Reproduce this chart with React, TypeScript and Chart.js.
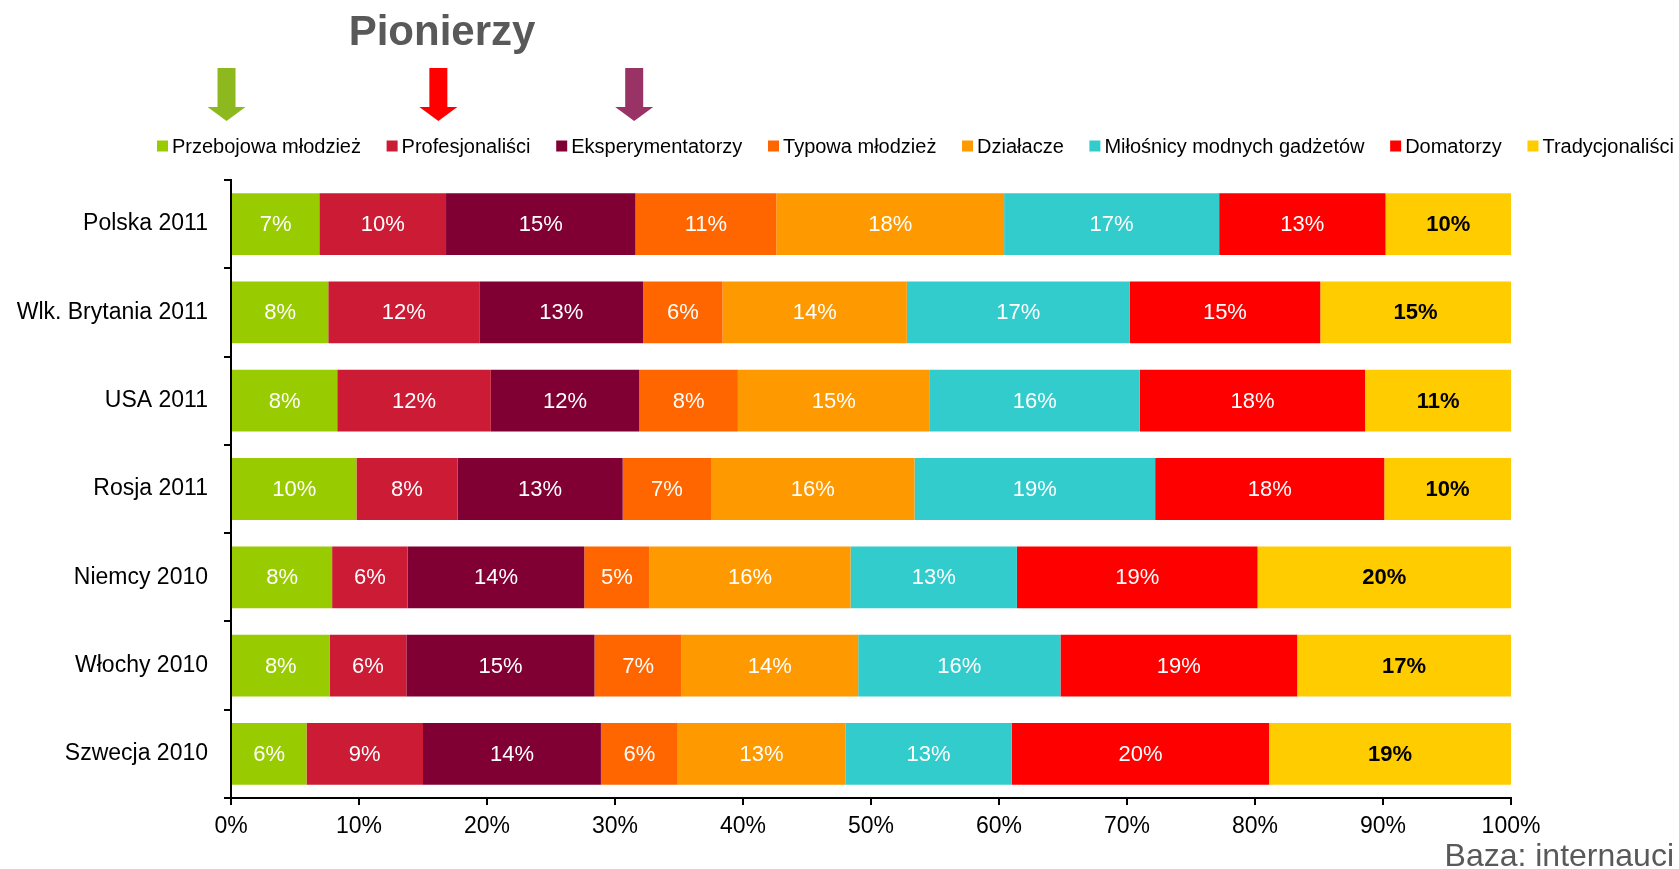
import { useEffect, useRef } from 'react';
import { Chart, registerables } from 'chart.js';

Chart.register(...registerables);

const FONT = '"Liberation Sans", Arial, Helvetica, sans-serif';

const categories = ['Polska 2011', 'Wlk. Brytania 2011', 'USA 2011', 'Rosja 2011', 'Niemcy 2010', 'Włochy 2010', 'Szwecja 2010'];

const seriesNames = [
  'Przebojowa młodzież',
  'Profesjonaliści',
  'Eksperymentatorzy',
  'Typowa młodzież',
  'Działacze',
  'Miłośnicy modnych gadżetów',
  'Domatorzy',
  'Tradycjonaliści',
];

const seriesColors = ['#99cc00', '#cb1b35', '#800033', '#ff6600', '#ff9900', '#33cccc', '#ff0000', '#ffcc00'];

const przebojowaMlodziez = [6.9, 7.6, 8.3, 9.8, 7.9, 7.7, 5.9];
const profesjonalisci = [9.9, 11.8, 12.0, 7.9, 5.9, 6.0, 9.1];
const eksperymentatorzy = [14.8, 12.8, 11.6, 12.9, 13.8, 14.7, 13.9];
const typowaMlodziez = [11.0, 6.2, 7.7, 6.9, 5.1, 6.8, 6.0];
const dzialacze = [17.8, 14.4, 15.0, 15.9, 15.7, 13.8, 13.1];
const milosnicyGadzetow = [16.8, 17.4, 16.4, 18.8, 13.0, 15.8, 13.0];
const domatorzy = [13.0, 14.9, 17.6, 17.9, 18.8, 18.5, 20.1];
const tradycjonalisci = [9.8, 14.9, 11.4, 9.9, 19.8, 16.7, 18.9];

const seriesValues = [
  przebojowaMlodziez,
  profesjonalisci,
  eksperymentatorzy,
  typowaMlodziez,
  dzialacze,
  milosnicyGadzetow,
  domatorzy,
  tradycjonalisci,
];

const xTickValues = [0, 10, 20, 30, 40, 50, 60, 70, 80, 90, 100];

const titleText = 'Pionierzy';
const footnoteText = 'Baza: internauci';
const arrowTargets = [-0.35, 16.2, 31.5];
const arrowColors = ['#8db91e', '#ff0000', '#993366'];

const barLabelsPlugin = {
  id: 'barLabels',
  afterDatasetsDraw(chart: any) {
    const ctx = chart.ctx;
    ctx.save();
    ctx.textAlign = 'center';
    ctx.textBaseline = 'middle';
    chart.data.datasets.forEach((ds: any, di: number) => {
      const meta = chart.getDatasetMeta(di);
      const last = di === chart.data.datasets.length - 1;
      ctx.font = `${last ? 'bold ' : ''}22px ${FONT}`;
      ctx.fillStyle = last ? '#000000' : '#ffffff';
      meta.data.forEach((bar: any, i: number) => {
        const v = ds.data[i];
        const cx = (bar.x + bar.base) / 2;
        ctx.fillText(Math.round(v) + '%', cx, bar.y + 1);
      });
    });
    ctx.restore();
  },
};

const decorPlugin = {
  id: 'decor',
  afterDraw(chart: any) {
    const ctx = chart.ctx;
    const xScale = chart.scales.x;
    ctx.save();

    // title
    ctx.font = `bold 42px ${FONT}`;
    ctx.fillStyle = '#595959';
    ctx.textAlign = 'center';
    ctx.textBaseline = 'alphabetic';
    ctx.fillText(titleText, 442, 45);

    // arrows
    arrowTargets.forEach((v, i) => {
      const cx = xScale.getPixelForValue(v);
      ctx.fillStyle = arrowColors[i];
      ctx.beginPath();
      ctx.moveTo(cx - 9, 68);
      ctx.lineTo(cx + 9, 68);
      ctx.lineTo(cx + 9, 107);
      ctx.lineTo(cx + 19, 107);
      ctx.lineTo(cx, 121);
      ctx.lineTo(cx - 19, 107);
      ctx.lineTo(cx - 9, 107);
      ctx.closePath();
      ctx.fill();
    });

    // legend
    ctx.font = `20px ${FONT}`;
    ctx.textAlign = 'left';
    ctx.textBaseline = 'middle';
    const box = 11;
    const boxGap = 4;
    const startX = 157;
    const endX = 1674;
    const legendY = 146;
    const widths = seriesNames.map((n) => ctx.measureText(n).width);
    const used = widths.reduce((a, b) => a + b, 0) + seriesNames.length * (box + boxGap);
    const gap = (endX - startX - used) / (seriesNames.length - 1);
    let x = startX;
    seriesNames.forEach((n, i) => {
      ctx.fillStyle = seriesColors[i];
      ctx.fillRect(x, legendY - box / 2, box, box);
      ctx.fillStyle = '#000000';
      ctx.fillText(n, x + box + boxGap, legendY + 1);
      x += box + boxGap + widths[i] + gap;
    });

    // footnote
    ctx.font = `32px ${FONT}`;
    ctx.fillStyle = '#595959';
    ctx.textAlign = 'right';
    ctx.textBaseline = 'alphabetic';
    ctx.fillText(footnoteText, 1674, 866);

    ctx.restore();
  },
};

export default function App() {
  const canvasRef = useRef<HTMLCanvasElement | null>(null);

  useEffect(() => {
    if (!canvasRef.current) return;
    const chart = new Chart(canvasRef.current, {
      type: 'bar',
      data: {
        labels: categories,
        datasets: seriesNames.map((name, i) => ({
          label: name,
          data: seriesValues[i],
          backgroundColor: seriesColors[i],
          borderWidth: 0,
          categoryPercentage: 1,
          barPercentage: 0.7,
        })),
      },
      options: {
        indexAxis: 'y',
        animation: false,
        responsive: true,
        maintainAspectRatio: false,
        layout: { padding: { top: 180, right: 168, left: 0, bottom: 0 } },
        plugins: {
          legend: { display: false },
          title: { display: false },
          tooltip: { enabled: false },
        },
        scales: {
          x: {
            stacked: true,
            min: 0,
            max: 100,
            afterBuildTicks: (scale: any) => {
              scale.ticks = xTickValues.map((v) => ({ value: v }));
            },
            ticks: {
              color: '#000000',
              font: { size: 23, family: FONT },
              padding: 8,
              callback: (v: any) => v + '%',
            },
            grid: { drawOnChartArea: false, color: '#000000', tickLength: 7, lineWidth: 2 },
            border: { color: '#000000', width: 2 },
            afterFit: (scale: any) => {
              scale.height = 71;
            },
          },
          y: {
            stacked: true,
            ticks: {
              color: '#000000',
              font: { size: 23, family: FONT },
              padding: 16,
            },
            grid: { drawOnChartArea: false, color: '#000000', tickLength: 7, lineWidth: 2, offset: true },
            border: { color: '#000000', width: 2 },
            afterFit: (scale: any) => {
              scale.width = 231;
            },
          },
        },
      },
      plugins: [barLabelsPlugin, decorPlugin],
    });
    return () => chart.destroy();
  }, []);

  return (
    <div style={{ position: 'fixed', left: 0, top: 0, width: '1679px', height: '869px', background: '#ffffff' }}>
      <canvas ref={canvasRef} />
    </div>
  );
}
